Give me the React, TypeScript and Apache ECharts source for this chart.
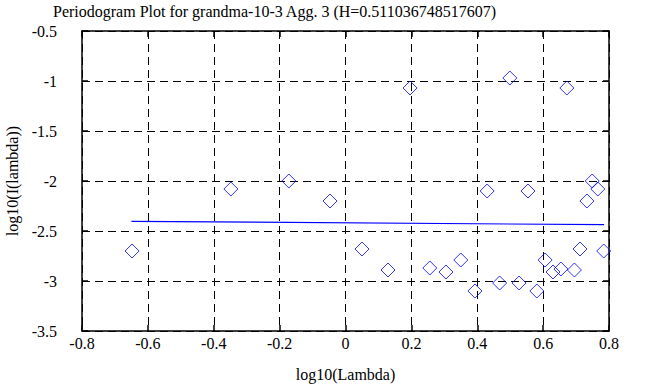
import React, { useEffect, useRef } from "react";
import * as echarts from "echarts";

const titleText = "Periodogram Plot for grandma-10-3 Agg. 3 (H=0.511036748517607)";
const xName = "log10(Lambda)";
const yName = "log10(I(lambda))";

const pointX = [
  -0.648, -0.348, -0.172, -0.047, 0.05, 0.129, 0.196, 0.256, 0.305, 0.35,
  0.393, 0.43, 0.468, 0.499, 0.527, 0.554, 0.581, 0.606, 0.63, 0.654,
  0.695, 0.712, 0.733, 0.749, 0.766, 0.784, 0.672,
];
const pointY = [
  -2.7, -2.08, -2.0, -2.2, -2.68, -2.89, -1.07, -2.87, -2.91, -2.79,
  -3.1, -2.1, -3.02, -0.97, -3.02, -2.1, -3.1, -2.79, -2.91, -2.88,
  -2.89, -2.68, -2.2, -2.0, -2.08, -2.7, -1.07,
];
const fitX = [-0.65, 0.785];
const fitY = [-2.403, -2.437];

const FONT = "'Liberation Serif', 'Times New Roman', Times, serif";

export default function App() {
  const ref = useRef<HTMLDivElement>(null);
  useEffect(() => {
    if (!ref.current) return;
    const chart = echarts.init(ref.current, null, { renderer: "svg" });
    const axisLine = { show: true, onZero: false, lineStyle: { color: "#000", width: 1.5 } };
    const tick = { show: true, inside: true, length: 6, lineStyle: { color: "#000", width: 1.5 } };
    const label = { color: "#000", fontFamily: FONT, fontSize: 16 };
    const split = { show: true, lineStyle: { color: "#000", type: [8, 5] as any, width: 1 } };
    chart.setOption({
      animation: false,
      backgroundColor: "#fff",
      title: {
        text: titleText,
        left: 53,
        top: 3,
        padding: 0,
        textStyle: { fontFamily: FONT, fontSize: 16, fontWeight: "normal", color: "#000" },
      },
      grid: { left: 82, right: 54, top: 31, bottom: 56, containLabel: false, outerBoundsMode: "none" },
      xAxis: [
        {
          type: "value",
          min: -0.8,
          max: 0.8,
          interval: 0.2,
          position: "bottom",
          name: xName,
          nameLocation: "middle",
          nameGap: 35,
          nameTextStyle: { fontFamily: FONT, fontSize: 16, color: "#000" },
          axisLine,
          axisTick: tick,
          axisLabel: { ...label, margin: 4, formatter: (v: number) => String(Math.round(v * 10) / 10) },
          splitLine: split,
        },
        {
          type: "value",
          min: -0.8,
          max: 0.8,
          interval: 0.2,
          position: "top",
          axisLine,
          axisTick: tick,
          axisLabel: { show: false },
          splitLine: { show: false },
        },
      ],
      yAxis: [
        {
          type: "value",
          min: -3.5,
          max: -0.5,
          interval: 0.5,
          position: "left",
          name: yName,
          nameLocation: "middle",
          nameGap: 62,
          nameTextStyle: { fontFamily: FONT, fontSize: 16, color: "#000" },
          axisLine,
          axisTick: tick,
          axisLabel: { ...label, margin: 25, formatter: (v: number) => String(Math.round(v * 10) / 10) },
          splitLine: split,
        },
        {
          type: "value",
          min: -3.5,
          max: -0.5,
          interval: 0.5,
          position: "right",
          axisLine,
          axisTick: tick,
          axisLabel: { show: false },
          splitLine: { show: false },
        },
      ],
      series: [
        {
          type: "line",
          data: fitX.map((x, i) => [x, fitY[i]]),
          symbol: "none",
          lineStyle: { color: "#0000ff", width: 1.2 },
          z: 3,
        },
        {
          type: "scatter",
          data: pointX.map((x, i) => [x, pointY[i]]),
          symbol: "diamond",
          symbolSize: [14, 14],
          itemStyle: { color: "rgba(0,0,0,0)", borderColor: "#0000ff", borderWidth: 1 },
          z: 4,
        },
      ],
    });
    return () => chart.dispose();
  }, []);
  return <div ref={ref} style={{ width: 663, height: 387, position: "absolute", left: 0, top: 0 }} />;
}
